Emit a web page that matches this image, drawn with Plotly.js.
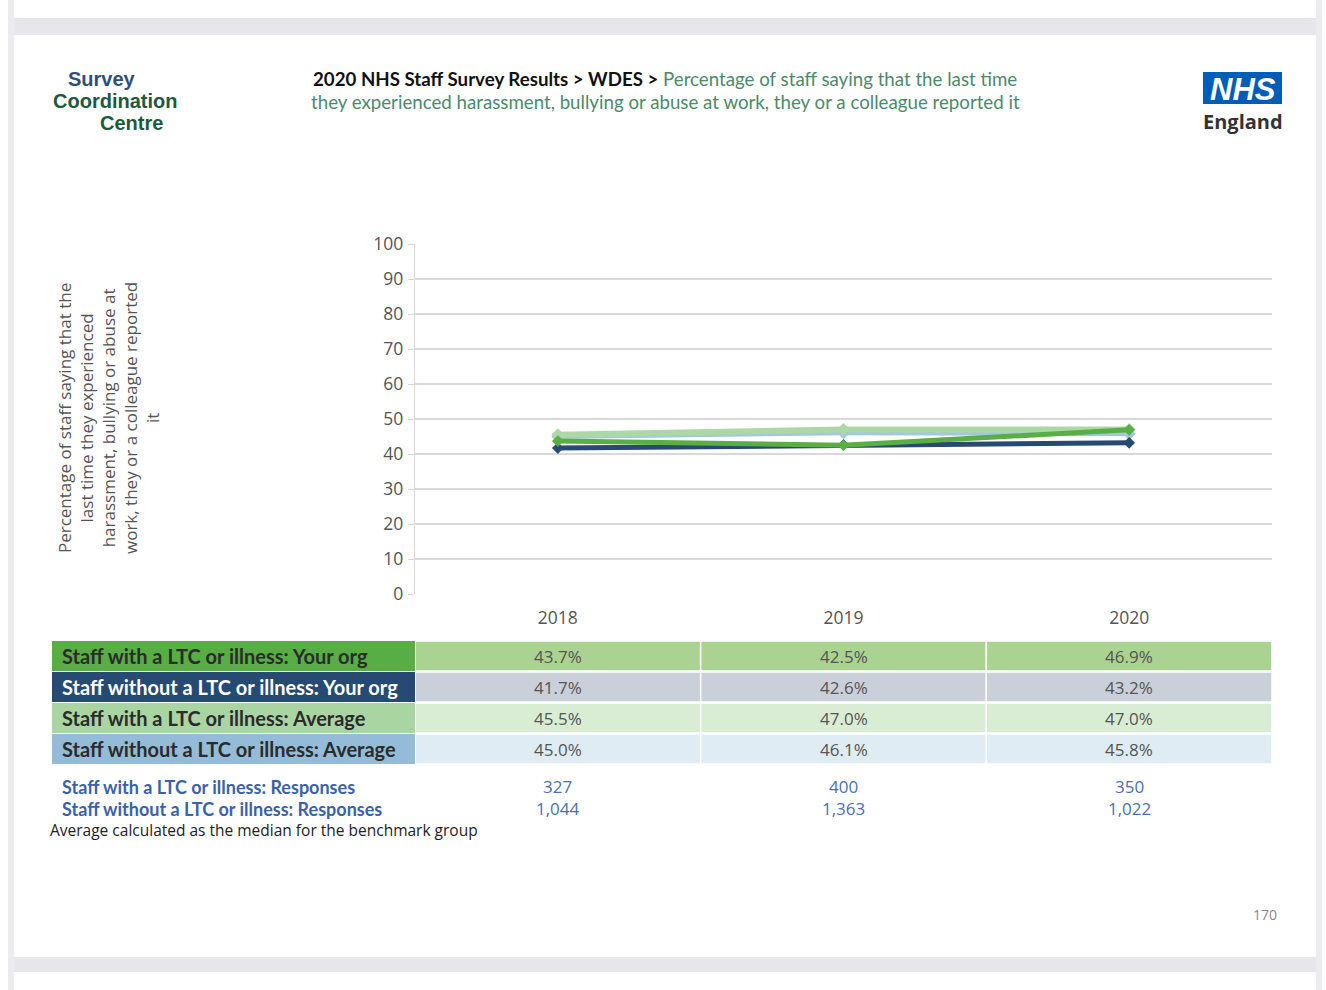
<!DOCTYPE html>
<html>
<head>
<meta charset="utf-8">
<script src="https://cdn.plot.ly/plotly-3.0.1.min.js"></script>
<style>html,body{margin:0;padding:0;background:#fff;}#chart{width:1326px;height:990px;}</style>
</head>
<body>
<div id="chart"></div>
<script>
// ---- data ----
const years = ['2018', '2019', '2020'];
const rowLabels = [
  'Staff with a LTC or illness: Your org',
  'Staff without a LTC or illness: Your org',
  'Staff with a LTC or illness: Average',
  'Staff without a LTC or illness: Average'
];
const withOrg = [43.7, 42.5, 46.9];
const withoutOrg = [41.7, 42.6, 43.2];
const withAvg = [45.5, 47.0, 47.0];
const withoutAvg = [45.0, 46.1, 45.8];
const responseLabels = ['Staff with a LTC or illness: Responses', 'Staff without a LTC or illness: Responses'];
const withResponses = [327, 400, 350];
const withoutResponses = [1044, 1363, 1022];
const yTicks = [0, 10, 20, 30, 40, 50, 60, 70, 80, 90, 100];

// ---- layout helpers ----
const W = 1326, H = 990;
const px = x => x / W;
const py = y => 1 - y / H;

const lineColors = ['#5aae46', '#284a72', '#acd8a6', '#a3c6e2'];
const labelBg = ['#58ad45', '#264a71', '#a9d5a3', '#94bbd7'];
const labelFg = ['#2b2b2b', '#ffffff', '#2b2b2b', '#2b2b2b'];
const cellBg = ['#aad291', '#c9d0d9', '#d9ecd4', '#dfecf3'];
const tableValues = [withOrg, withoutOrg, withAvg, withoutAvg];

function mk(name, y, color, width, msize) {
  return {
    type: 'scatter', mode: 'lines+markers', name: name, x: years, y: y,
    line: {color: color, width: width},
    marker: {symbol: 'diamond', size: msize, color: color},
    hoverinfo: 'x+y+name'
  };
}
const traces = [
  mk(rowLabels[3], withoutAvg, lineColors[3], 5, 10),
  mk(rowLabels[2], withAvg, lineColors[2], 6, 10),
  mk(rowLabels[1], withoutOrg, lineColors[1], 5, 9),
  mk(rowLabels[0], withOrg, lineColors[0], 5, 9)
];

const shapes = [];
const annotations = [];
// page frame
const frameGray = '#e6e6eb';
shapes.push({type:'rect', xref:'paper', yref:'paper', x0:px(8), x1:px(1322), y0:py(35), y1:py(18), fillcolor:frameGray, line:{width:0}, layer:'below'});
shapes.push({type:'rect', xref:'paper', yref:'paper', x0:px(8), x1:px(1322), y0:py(972), y1:py(957), fillcolor:frameGray, line:{width:0}, layer:'below'});
shapes.push({type:'rect', xref:'paper', yref:'paper', x0:px(8), x1:px(14), y0:py(990), y1:py(0), fillcolor:'#ececf0', line:{width:0}, layer:'below'});
shapes.push({type:'rect', xref:'paper', yref:'paper', x0:px(1316), x1:px(1322), y0:py(990), y1:py(0), fillcolor:'#ececf0', line:{width:0}, layer:'below'});

// table rows
const rowTop = [641, 672, 703, 734];
const rowH = 30;
const labelFont = 'Lato, sans-serif';
rowLabels.forEach((lab, r) => {
  const t = rowTop[r], b = t + rowH;
  shapes.push({type:'rect', xref:'paper', yref:'paper', x0:px(52), x1:px(415), y0:py(b), y1:py(t), fillcolor:labelBg[r], line:{width:0}, layer:'below'});
  annotations.push({xref:'paper', yref:'paper', x:px(60), y:py(t + rowH/2), xanchor:'left', yanchor:'middle', showarrow:false,
    text:'<b>' + lab + '</b>', font:{family:labelFont, size:20, color:labelFg[r]}});
  years.forEach((yr, c) => {
    shapes.push({type:'rect', xref:'x', yref:'paper', x0:c - 0.5, x1:c + 0.5, y0:py(b), y1:py(t), fillcolor:cellBg[r], line:{width:1.5, color:'#ffffff'}, layer:'below'});
    annotations.push({xref:'x', yref:'paper', x:c, y:py(t + rowH/2), xanchor:'center', yanchor:'middle', showarrow:false,
      text: tableValues[r][c].toFixed(1) + '%', font:{family:'"Open Sans", sans-serif', size:17, color:'#555555'}});
  });
});
// responses
const respY = [787, 809];
const respVals = [withResponses, withoutResponses];
responseLabels.forEach((lab, r) => {
  annotations.push({xref:'paper', yref:'paper', x:px(60), y:py(respY[r]), xanchor:'left', yanchor:'middle', showarrow:false,
    text:'<b>' + lab + '</b>', font:{family:labelFont, size:18, color:'#3a62a8'}});
  years.forEach((yr, c) => {
    annotations.push({xref:'x', yref:'paper', x:c, y:py(respY[r] - 0.5), xanchor:'center', yanchor:'middle', showarrow:false,
      text: respVals[r][c].toLocaleString('en-US'), font:{family:'"Open Sans", sans-serif', size:17, color:'#4a6fb2'}});
  });
});
annotations.push({xref:'paper', yref:'paper', x:px(48), y:py(830), xanchor:'left', yanchor:'middle', showarrow:false,
  text:'Average calculated as the median for the benchmark group', font:{family:'"Open Sans", sans-serif', size:15.5, color:'#222222'}});

// titles
const greenTxt = '#4b8a6c';
annotations.push({xref:'paper', yref:'paper', x:px(665), y:py(79), xanchor:'center', yanchor:'middle', showarrow:false,
  text:'<b>2020 NHS Staff Survey Results &gt; WDES &gt;</b> <span style="color:' + greenTxt + '">Percentage of staff saying that the last time</span>',
  font:{family:'Lato, sans-serif', size:18.7, color:'#111111'}});
annotations.push({xref:'paper', yref:'paper', x:px(665), y:py(102), xanchor:'center', yanchor:'middle', showarrow:false,
  text:'they experienced harassment, bullying or abuse at work, they or a colleague reported it',
  font:{family:'Lato, sans-serif', size:18.7, color:greenTxt}});

// Survey Coordination Centre logo
const logoFont = '"Liberation Sans", Arial, sans-serif';
const logoLines = [['Survey', 102, 78.5, '#2f4e7c'], ['Coordination', 115, 101, '#1d5a3c'], ['Centre', 131, 123.5, '#1d5a3c']];
logoLines.forEach(l => {
  annotations.push({xref:'paper', yref:'paper', x:px(l[1]), y:py(l[2]), xanchor:'center', yanchor:'middle', showarrow:false,
    borderpad: 0, text:'<b>' + l[0] + '</b>', font:{family:logoFont, size:20, color:l[3]}});
});

// NHS logo
shapes.push({type:'rect', xref:'paper', yref:'paper', x0:px(1203), x1:px(1282), y0:py(104), y1:py(72), fillcolor:'#005eb8', line:{width:0}});
annotations.push({xref:'paper', yref:'paper', x:px(1242.5), y:py(89), xanchor:'center', yanchor:'middle', showarrow:false,
  text:'<b><i>NHS</i></b>', font:{family:logoFont, size:31, color:'#ffffff'}});
annotations.push({xref:'paper', yref:'paper', x:px(1242.5), y:py(121), xanchor:'center', yanchor:'middle', showarrow:false,
  text:'<b>England</b>', font:{family:'"Open Sans", sans-serif', size:20, color:'#333333'}});

// y axis title (rotated)
annotations.push({xref:'paper', yref:'paper', x:px(108), y:py(418), xanchor:'center', yanchor:'middle', showarrow:false, textangle:-90,
  text:'Percentage of staff saying that the<br>last time they experienced<br>harassment, bullying or abuse at<br>work, they or a colleague reported<br>it',
  font:{family:'"Open Sans", sans-serif', size:17, color:'#555555'}});

// page number
annotations.push({xref:'paper', yref:'paper', x:px(1265), y:py(914), xanchor:'center', yanchor:'middle', showarrow:false,
  text:'170', font:{family:'"Open Sans", sans-serif', size:14, color:'#888888'}});

const layout = {
  width: W, height: H,
  margin: {l:0, r:0, t:0, b:0},
  paper_bgcolor: '#ffffff', plot_bgcolor: 'rgba(0,0,0,0)',
  showlegend: false,
  xaxis: {
    domain: [px(415), px(1272)],
    type: 'category', categoryorder: 'array', categoryarray: years,
    range: [-0.5, 2.5], showgrid: false, zeroline: false, showline: false,
    ticks: '', ticklabelstandoff: 11,
    tickfont: {family:'"Open Sans", sans-serif', size:17.5, color:'#555555'},
    fixedrange: true
  },
  yaxis: {
    domain: [py(594), py(244)],
    range: [0, 100], tickvals: yTicks, ticktext: yTicks.map(String),
    showgrid: true, gridcolor: '#d9d9d9', gridwidth: 1.2, zeroline: false,
    showline: true, linecolor: '#d9d9d9', linewidth: 1.2,
    ticks: 'outside', ticklen: 6, tickcolor: '#d9d9d9', ticklabelstandoff: 1,
    tickfont: {family:'"Open Sans", sans-serif', size:17.5, color:'#555555'},
    fixedrange: true
  },
  shapes: shapes,
  annotations: annotations
};

Plotly.newPlot('chart', traces, layout, {displayModeBar:false, staticPlot:true});
</script>
</body>
</html>
